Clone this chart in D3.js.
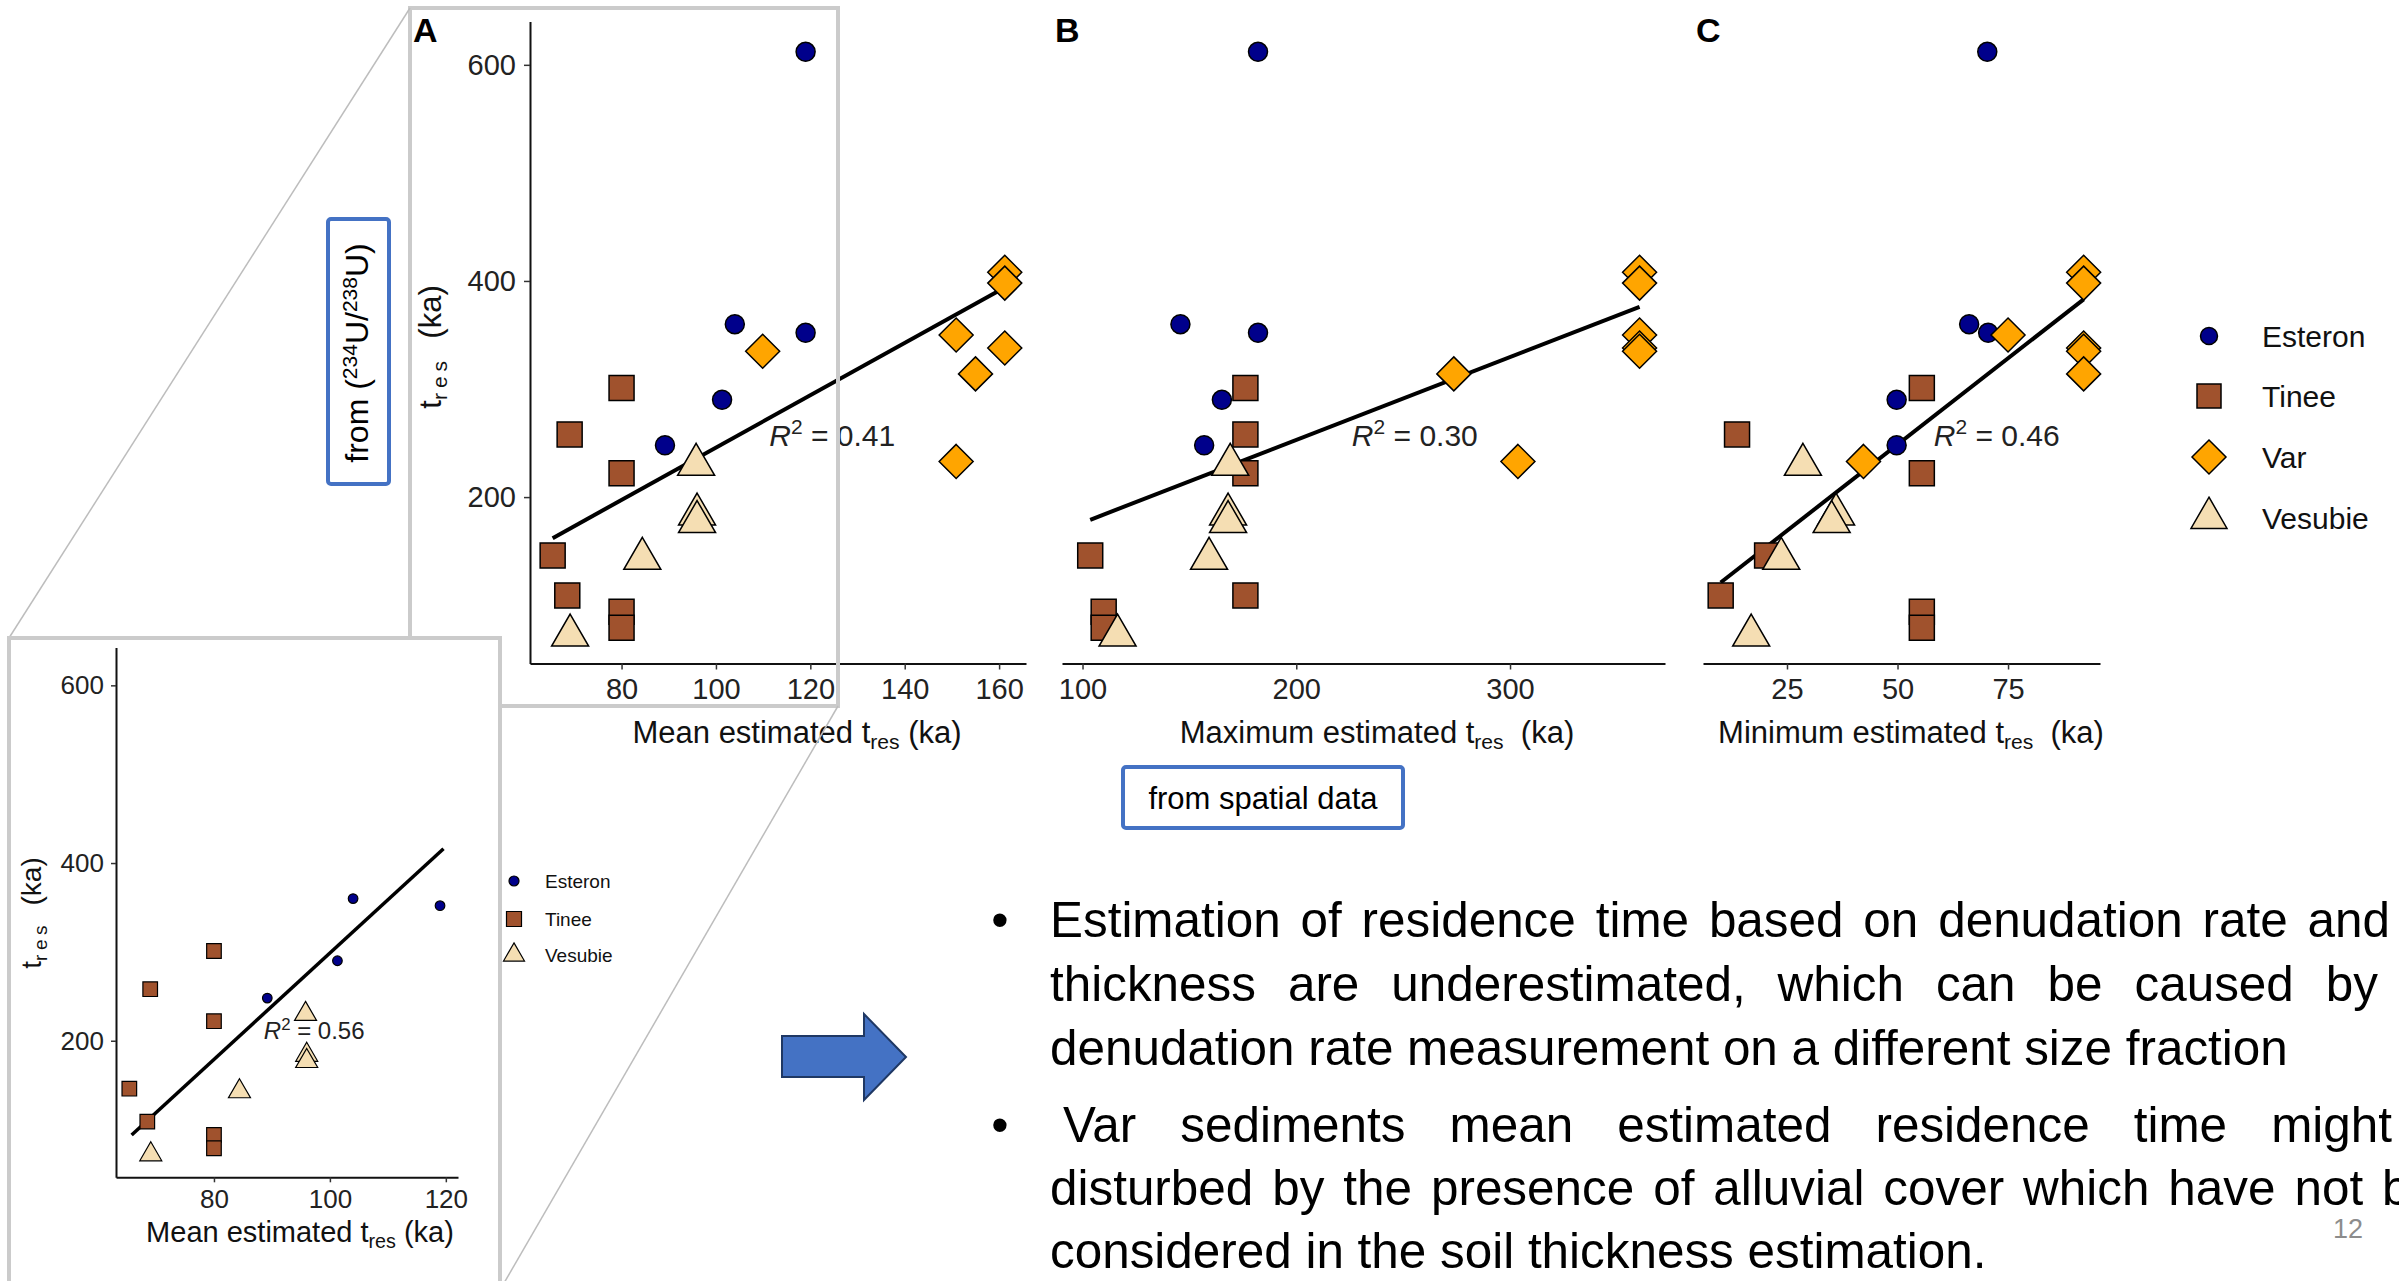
<!DOCTYPE html>
<html lang="en">
<head>
<meta charset="UTF-8">
<title>Residence time: U-series vs spatial data</title>
<script src="https://d3js.org/d3.v7.min.js"></script>
<style>
  html, body { margin: 0; padding: 0; background: #fff; overflow: hidden; }
  svg { display: block; font-family: "Liberation Sans", Arial, sans-serif; }
</style>
</head>
<body>
<svg id="slide" width="2399" height="1281"></svg>
<script>
// values, t_res in ka
const rivers = ["Esteron", "Tinee", "Var", "Vesubie"];

const esteronTres = [612, 360, 352, 290, 248];
const esteronMean = [119, 104, 119, 101.3, 89.2];
const esteronMax  = [182.1, 145.8, 182.1, 165.2, 156.9];
const esteronMin  = [70.3, 66.2, 70.5, 49.8, 49.8];

const tineeTres = [301, 258, 222, 146, 109, 94, 79];
const tineeMean = [80, 69, 80, 65.4, 68.5, 80, 80];
const tineeMax  = [176.2, 176.2, 176.2, 103.6, 176.2, 109.9, 109.9];
const tineeMin  = [55.5, 13.7, 55.5, 20.5, 10.0, 55.5, 55.5];

const varTres = [408, 398, 350, 338, 335, 314, 233];
const varMean = [161.2, 161.2, 150.9, 161.2, 109.9, 155, 150.9];
const varMax  = [360.6, 360.6, 360.6, 360.6, 360.6, 273.7, 303.7];
const varMin  = [92.1, 92.1, 75, 92.1, 92.1, 92.1, 42.3];

const vesubieTres = [230, 184, 177, 143, 72];
const vesubieMean = [95.8, 96, 96, 84.4, 69.1];
const vesubieMax  = [169.1, 168.1, 168.1, 159.2, 116.4];
const vesubieMin  = [28.6, 36.1, 35.1, 23.7, 16.9];

// fitted lines (end points)
const fitMean  = [[65.4, 162], [161.2, 394]];
const fitMax   = [[103.6, 179], [360.6, 376]];
const fitMin   = [[10, 121], [92.1, 383]];
const fitInset = [[65.8, 94], [119.6, 416]];
const r2Labels = ["0.41", "0.30", "0.46", "0.56"];

// small chart: older version without Var and without the 612 ka outlier
const insetRivers = ["Esteron", "Tinee", "Vesubie"];
const insetDropped = [612];

const yTicks = [200, 400, 600];
const meanTicks = [80, 100, 120, 140, 160];
const maxTicks = [100, 200, 300];
const minTicks = [25, 50, 75];
const insetTicks = [80, 100, 120];

const bullet1 = [
  "Estimation of residence time based on denudation rate and",
  "thickness are underestimated, which can be caused by",
  "denudation rate measurement on a different size fraction"
];
const bullet2 = [
  "Var sediments mean estimated residence time might",
  "disturbed by the presence of alluvial cover which have not been",
  "considered in the soil thickness estimation."
];

// ---------------------------------------------------------------
const series = [
  {river: "Esteron", tres: esteronTres, mean: esteronMean, max: esteronMax, min: esteronMin},
  {river: "Tinee", tres: tineeTres, mean: tineeMean, max: tineeMax, min: tineeMin},
  {river: "Var", tres: varTres, mean: varMean, max: varMax, min: varMin},
  {river: "Vesubie", tres: vesubieTres, mean: vesubieMean, max: vesubieMax, min: vesubieMin}
];
const points = series.flatMap(s => s.tres.map((t, i) => ({
  river: s.river, tres: t, mean: s.mean[i], max: s.max[i], min: s.min[i]
})));

const fills = {Esteron: "#00008b", Tinee: "#a0522d", Var: "#ffa500", Vesubie: "#f5deb3"};

const mainSize = {circle: 9.5, square: 12.5, diamond: 17, triangle: 37};
const legendSize = {circle: 8.5, square: 12, diamond: 17, triangle: 36};
const insetSize = {circle: 4.8, square: 7.3, diamond: 10, triangle: 22};

function shape(river, sz) {
  if (river === "Esteron") {
    const r = sz.circle;
    return `M${r},0A${r},${r} 0 1,1 ${-r},0A${r},${r} 0 1,1 ${r},0Z`;
  }
  if (river === "Tinee") {
    const h = sz.square;
    return `M${-h},${-h}H${h}V${h}H${-h}Z`;
  }
  if (river === "Var") {
    const d = sz.diamond;
    return `M0,${-d}L${d},0L0,${d}L${-d},0Z`;
  }
  const s = sz.triangle, H = s * Math.sqrt(3) / 2;
  return `M0,${-2 * H / 3}L${s / 2},${H / 3}L${-s / 2},${H / 3}Z`;
}

const svg = d3.select("#slide");

function styleAxis(sel, fs) {
  sel.attr("font-family", null).attr("font-size", fs);
  sel.select(".domain").attr("stroke", "#111").attr("stroke-width", 2);
  sel.selectAll(".tick line").attr("stroke", "#333").attr("stroke-width", 1.5);
  sel.selectAll(".tick text").attr("fill", "#222");
}

function tresTitle(g, x, y, fs, head, tail, rotate) {
  const t = g.append("text")
    .attr("text-anchor", "middle")
    .attr("font-size", fs)
    .attr("fill", "#111")
    .attr("transform", `translate(${x},${y})` + (rotate ? " rotate(-90)" : ""));
  t.append("tspan").text(head);
  t.append("tspan").attr("font-size", fs * 0.68).attr("dy", fs * 0.2)
    .attr("letter-spacing", rotate ? fs * 0.16 : 0).text("res");
  t.append("tspan").attr("dy", -fs * 0.2).text(tail);
  return t;
}

function r2Text(g, x, y, fs, value) {
  const t = g.append("text").attr("x", x).attr("y", y).attr("font-size", fs).attr("fill", "#222");
  t.append("tspan").attr("font-style", "italic").text("R");
  t.append("tspan").attr("font-size", fs * 0.7).attr("dy", -fs * 0.4).text("2");
  t.append("tspan").attr("dy", fs * 0.4).text(" = " + value);
}

function drawMarks(g, data, x, y, key, sz, sw) {
  g.append("g").selectAll("path")
    .data(data)
    .join("path")
    .attr("transform", d => `translate(${x(d[key])},${y(d.tres)})`)
    .attr("d", d => shape(d.river, sz))
    .attr("fill", d => fills[d.river])
    .attr("stroke", "#000")
    .attr("stroke-width", sw);
}

// ---- three main panels ----
const mainY = d3.scaleLinear().domain([46, 640]).range([663.5, 21.6]);

const panels = [
  {key: "mean", letter: "A", letterX: 413, xDomain: [60.6, 165.7], xRange: [530, 1026],
   ticks: meanTicks, fit: fitMean, r2: r2Labels[0], r2At: [111.3, 247],
   title: "Mean estimated t", tail: " (ka)", titleX: 797, yAxis: true},
  {key: "max", letter: "B", letterX: 1055, xDomain: [90.4, 372.5], xRange: [1062, 1665],
   ticks: maxTicks, fit: fitMax, r2: r2Labels[1], r2At: [226, 247],
   title: "Maximum estimated t", tail: "\u00a0\u00a0(ka)", titleX: 1377, yAxis: false},
  {key: "min", letter: "C", letterX: 1696, xDomain: [6.0, 95.8], xRange: [1703, 2100],
   ticks: minTicks, fit: fitMin, r2: r2Labels[2], r2At: [58.2, 247],
   title: "Minimum estimated t", tail: "\u00a0\u00a0(ka)", titleX: 1911, yAxis: false}
];

const line = (x, y) => d3.line().x(d => x(d[0])).y(d => y(d[1]));

panels.forEach(p => {
  const g = svg.append("g");
  const x = d3.scaleLinear().domain(p.xDomain).range(p.xRange);

  g.append("g")
    .attr("transform", `translate(0,${mainY.range()[0]})`)
    .call(d3.axisBottom(x).tickValues(p.ticks).tickSize(6).tickSizeOuter(0).tickPadding(9))
    .call(styleAxis, 29);

  if (p.yAxis) {
    g.append("g")
      .attr("transform", `translate(${p.xRange[0]},0)`)
      .call(d3.axisLeft(mainY).tickValues(yTicks).tickSize(6).tickSizeOuter(0).tickPadding(8))
      .call(styleAxis, 29);
    tresTitle(g, 441, 347, 31, "t", "\u00a0\u00a0(ka)", true);
  }

  g.append("path").datum(p.fit)
    .attr("d", line(x, mainY))
    .attr("fill", "none").attr("stroke", "#000").attr("stroke-width", 4);

  drawMarks(g, points, x, mainY, p.key, mainSize, 1.5);

  r2Text(g, x(p.r2At[0]), mainY(p.r2At[1]), 30, p.r2);

  tresTitle(g, p.titleX, 743, 31, p.title, p.tail, false);

  g.append("text").attr("x", p.letterX).attr("y", 42)
    .attr("font-size", 34).attr("font-weight", "bold").attr("fill", "#000").text(p.letter);
});

// ---- legend ----
const legY = [336, 396, 457, 518];
const leg = svg.append("g");
rivers.forEach((r, i) => {
  leg.append("path")
    .attr("transform", `translate(2209,${legY[i]})`)
    .attr("d", shape(r, legendSize))
    .attr("fill", fills[r]).attr("stroke", "#000").attr("stroke-width", 1.5);
  leg.append("text").attr("x", 2262).attr("y", legY[i] + 10.5)
    .attr("font-size", 30).attr("fill", "#111").text(r);
});

// ---- zoom frame and perspective lines ----
svg.append("rect").attr("x", 410).attr("y", 8).attr("width", 428).attr("height", 698)
  .attr("fill", "none").attr("stroke", "#cbcbcb").attr("stroke-width", 4);
svg.append("line").attr("x1", 410).attr("y1", 8).attr("x2", 9).attr("y2", 638)
  .attr("stroke", "#bdbdbd").attr("stroke-width", 1.5);
svg.append("line").attr("x1", 838).attr("y1", 706).attr("x2", 500).attr("y2", 1290)
  .attr("stroke", "#bdbdbd").attr("stroke-width", 1.5);

// ---- inset (previous version of panel A) ----
const inset = svg.append("g");
inset.append("rect").attr("x", 9).attr("y", 638).attr("width", 491).attr("height", 700)
  .attr("fill", "#fff").attr("stroke", "#cbcbcb").attr("stroke-width", 4);

const insetY = d3.scaleLinear().domain([46.3, 642.7]).range([1177.3, 647.4]);
const insetX = d3.scaleLinear().domain([63.1, 122.1]).range([116, 458]);
const insetPoints = points.filter(d => insetRivers.includes(d.river) && !insetDropped.includes(d.tres));

inset.append("g")
  .attr("transform", `translate(0,${insetY.range()[0]})`)
  .call(d3.axisBottom(insetX).tickValues(insetTicks).tickSize(5).tickSizeOuter(0).tickPadding(7))
  .call(styleAxis, 26);
inset.append("g")
  .attr("transform", `translate(${insetX.range()[0]},0)`)
  .call(d3.axisLeft(insetY).tickValues(yTicks).tickSize(5).tickSizeOuter(0).tickPadding(7))
  .call(styleAxis, 26);

inset.append("path").datum(fitInset)
  .attr("d", line(insetX, insetY))
  .attr("fill", "none").attr("stroke", "#000").attr("stroke-width", 3.5);

drawMarks(inset, insetPoints, insetX, insetY, "mean", insetSize, 1.2);
r2Text(inset, insetX(88.6), insetY(201.4), 24, r2Labels[3]);
tresTitle(inset, 300, 1242, 29, "Mean estimated t", " (ka)", false);
tresTitle(inset, 41, 913, 28, "t", "\u00a0\u00a0(ka)", true);

const insetLegY = [881, 919, 955];
insetRivers.forEach((r, i) => {
  inset.append("path")
    .attr("transform", `translate(514,${insetLegY[i]})`)
    .attr("d", shape(r, {circle: 5, square: 7.5, diamond: 10, triangle: 21}))
    .attr("fill", fills[r]).attr("stroke", "#000").attr("stroke-width", 1.2);
  inset.append("text").attr("x", 545).attr("y", insetLegY[i] + 7)
    .attr("font-size", 19).attr("fill", "#111").text(r);
});

// ---- blue annotation boxes ----
svg.append("rect").attr("x", 328).attr("y", 219).attr("width", 61).attr("height", 265).attr("rx", 3)
  .attr("fill", "#fff").attr("stroke", "#4472c4").attr("stroke-width", 4);
const uText = svg.append("text").attr("text-anchor", "middle").attr("font-size", 32).attr("fill", "#000")
  .attr("transform", "translate(368,353) rotate(-90)");
uText.append("tspan").text("from (");
uText.append("tspan").attr("font-size", 21).attr("dy", -11).text("234");
uText.append("tspan").attr("dy", 11).text("U/");
uText.append("tspan").attr("font-size", 21).attr("dy", -11).text("238");
uText.append("tspan").attr("dy", 11).text("U)");

svg.append("rect").attr("x", 1123).attr("y", 767).attr("width", 280).attr("height", 61).attr("rx", 3)
  .attr("fill", "#fff").attr("stroke", "#4472c4").attr("stroke-width", 4);
svg.append("text").attr("x", 1263).attr("y", 809).attr("text-anchor", "middle")
  .attr("font-size", 31).attr("fill", "#000").text("from spatial data");

// ---- arrow ----
svg.append("path")
  .attr("d", "M782,1036H864V1014L906,1057L864,1100V1077H782Z")
  .attr("fill", "#4472c4").attr("stroke", "#1f3864").attr("stroke-width", 2);

// ---- bullet text ----
const body = svg.append("g").attr("fill", "#000");
const probe = body.append("text").attr("font-size", 50).text(bullet1[2]);
const fs = 50 * 1238 / probe.node().getComputedTextLength();
probe.remove();

function textLine(str, x0, baseline, x1) {
  const t = body.append("text").attr("y", baseline).attr("font-size", fs);
  if (x1 === undefined) { t.attr("x", x0).text(str); return; }
  const words = str.split(" ");
  const widths = words.map(w => {
    const tmp = t.append("tspan").text(w);
    const wd = tmp.node().getComputedTextLength();
    tmp.remove();
    return wd;
  });
  const gap = (x1 - x0 - d3.sum(widths)) / (words.length - 1);
  let x = x0;
  words.forEach((w, i) => { t.append("tspan").attr("x", x).text(w); x += widths[i] + gap; });
}

[937, 1065 + 77].forEach(b => {
  body.append("text").attr("x", 1000).attr("y", b).attr("text-anchor", "middle")
    .attr("font-size", fs).text("\u2022");
});
textLine(bullet1[0], 1050, 937, 2390);
textLine(bullet1[1], 1050, 1001, 2378);
textLine(bullet1[2], 1050, 1065);
textLine(bullet2[0], 1063, 1142, 2392);
textLine(bullet2[1], 1050, 1205, 2492);
textLine(bullet2[2], 1050, 1268);

svg.append("text").attr("x", 2348).attr("y", 1238).attr("text-anchor", "middle")
  .attr("font-size", 27).attr("fill", "#8c8c8c").text("12");
</script>
</body>
</html>
